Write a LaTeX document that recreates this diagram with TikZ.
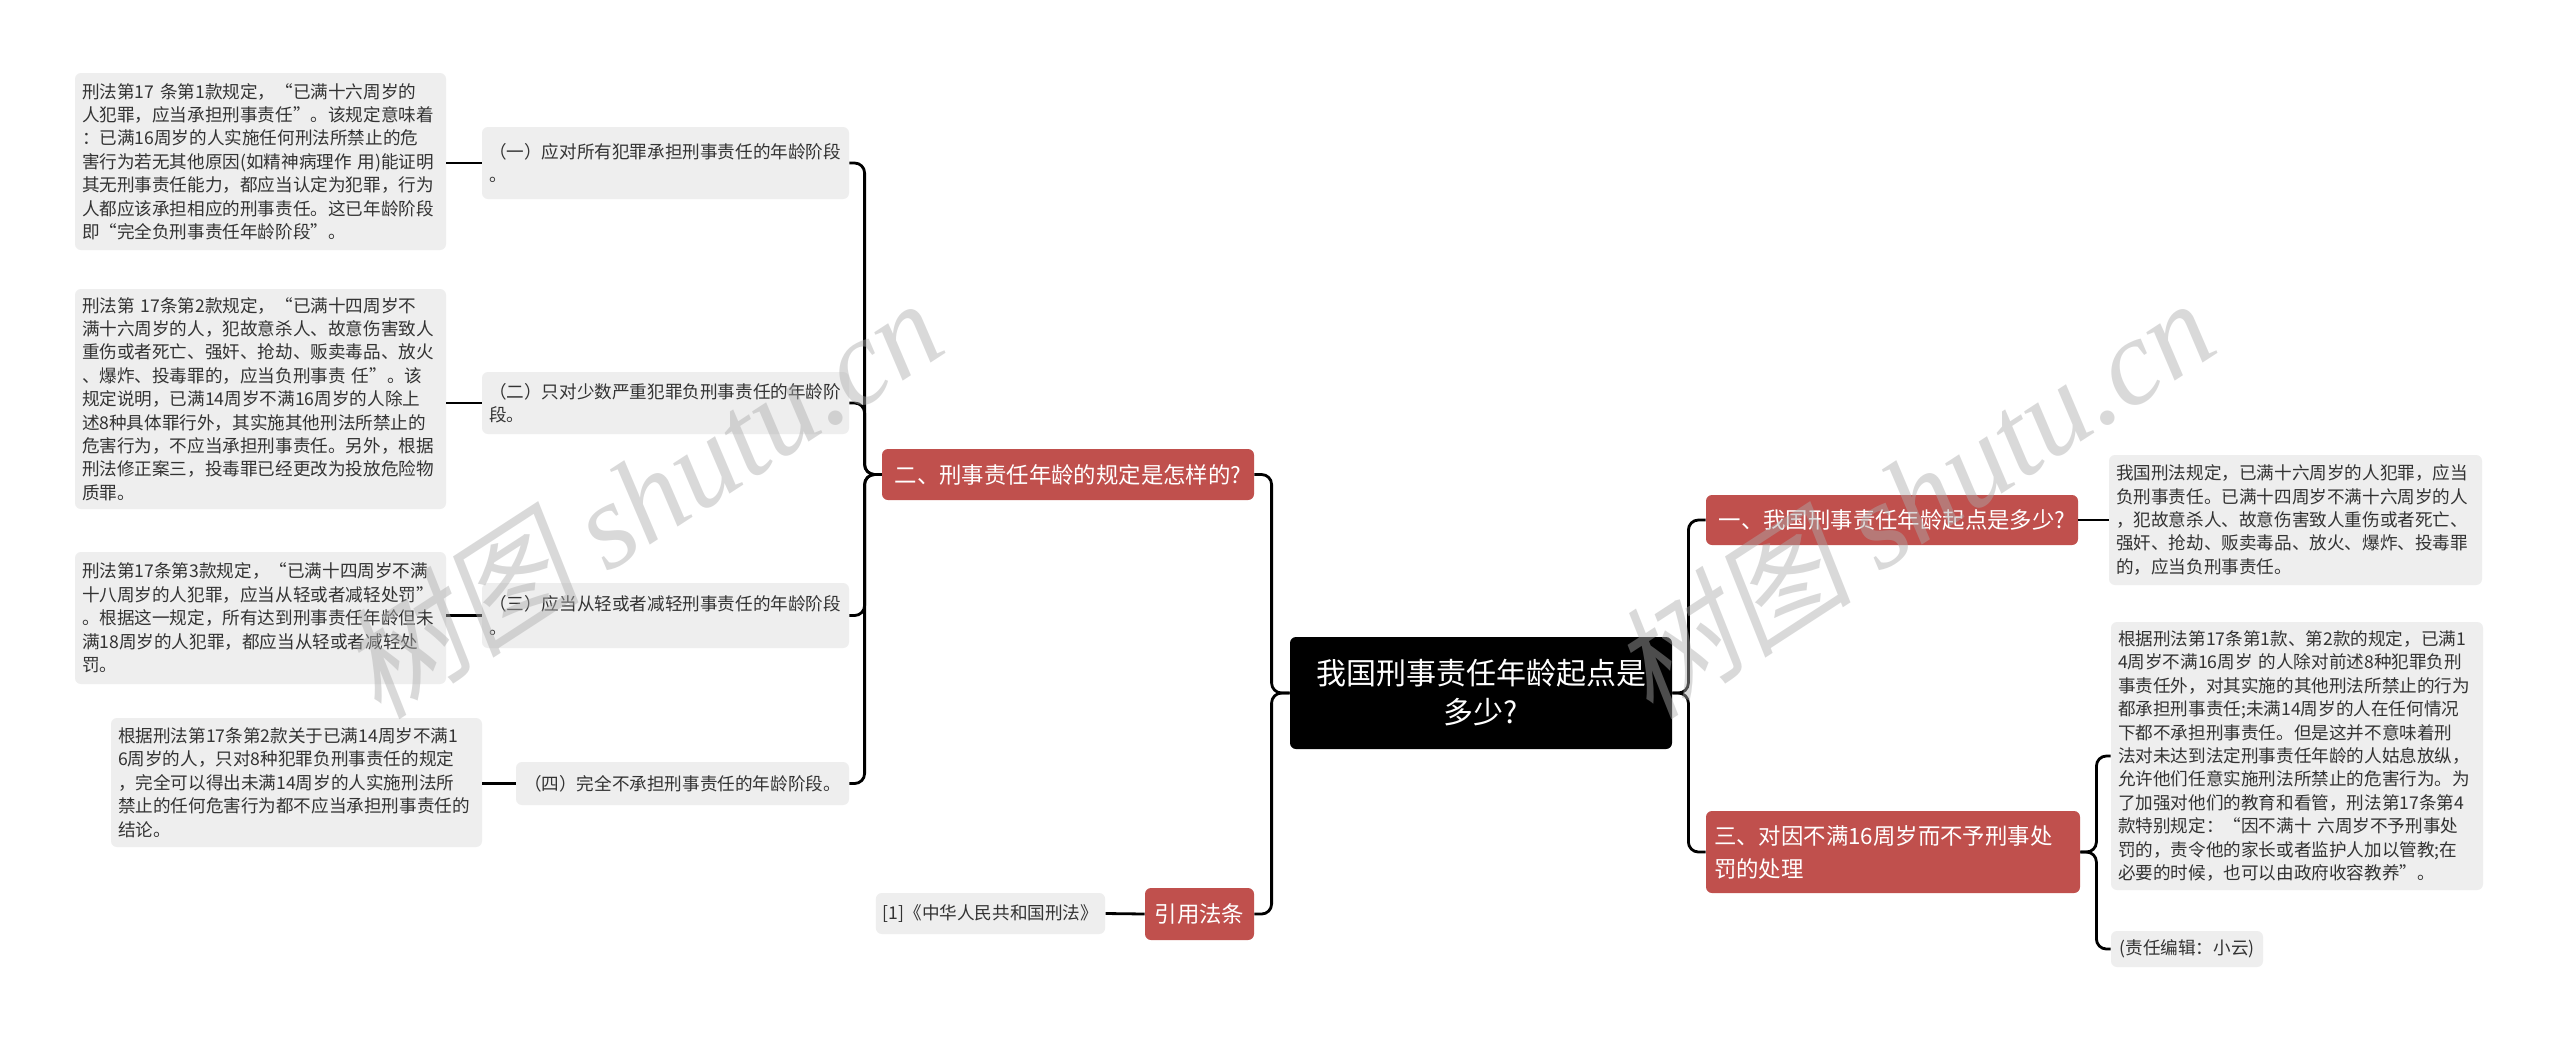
\documentclass[tikz,border=0pt]{standalone}
\usepackage{fontspec}
\newfontfamily\cjk{Noto Sans CJK SC}
\newfontfamily\wmcjk[FakeSlant=0.2]{Noto Sans CJK SC}
\newfontfamily\wmlat{Liberation Serif}
\definecolor{leafbg}{HTML}{EEEEEE}
\definecolor{leaftext}{HTML}{333333}
\definecolor{redbg}{HTML}{C0504D}
\begin{document}
\begin{tikzpicture}[x=0.5pt,y=-0.5pt,
  leaf/.style={fill=leafbg, rounded corners=3pt, text=leaftext, font=\cjk\fontsize{8.8}{11.7}\selectfont, align=left, inner xsep=3.5pt, inner ysep=3pt},
  redbox/.style={fill=redbg, rounded corners=3pt, text=white, font=\cjk\fontsize{11.2}{16.5}\selectfont, inner xsep=4pt},
  rootbox/.style={fill=black, rounded corners=3pt, text=white, font=\cjk\fontsize{15}{19.5}\selectfont, align=center},
  conn/.style={draw=black, line width=1.4pt, rounded corners=5pt},
  wm/.style={rotate=33, text=gray!65, opacity=0.45, font=\fontsize{61}{70}\selectfont}]
\fill[white] (0,0) rectangle (2560,1045);
\useasboundingbox (0,0) rectangle (2560,1045);

% root
\node[rootbox, minimum width=191pt, minimum height=56pt, text width=180pt] (root) at (1481,693) {我国刑事责任年龄起点是\\多少?};

% right side
\node[redbox, minimum width=186pt, minimum height=25pt, align=center] (r1) at (1892,520) {一、我国刑事责任年龄起点是多少?};
\node[leaf, minimum height=65pt, text width=179.5pt] (r1a) at (2295.5,520) {我国刑法规定，已满十六周岁的人犯罪，应当\\负刑事责任。已满十四周岁不满十六周岁的人\\，犯故意杀人、故意伤害致人重伤或者死亡、\\强奸、抢劫、贩卖毒品、放火、爆炸、投毒罪\\的，应当负刑事责任。};
\node[redbox, minimum height=41pt, text width=179pt, align=left] (r3) at (1893,852) {三、对因不满16周岁而不予刑事处\\罚的处理};
\node[leaf, minimum height=134pt, text width=179pt] (r3a) at (2297,756) {根据刑法第17条第1款、第2款的规定，已满1\\4周岁不满16周岁~的人除对前述8种犯罪负刑\\事责任外，对其实施的其他刑法所禁止的行为\\都承担刑事责任;未满14周岁的人在任何情况\\下都不承担刑事责任。但是这并不意味着刑\\法对未达到法定刑事责任年龄的人姑息放纵，\\允许他们任意实施刑法所禁止的危害行为。为\\了加强对他们的教育和看管，刑法第17条第4\\款特别规定：“因不满十~六周岁不予刑事处\\罚的，责令他的家长或者监护人加以管教;在\\必要的时候，也可以由政府收容教养”。};
\node[leaf, minimum height=18pt, minimum width=76pt] (r3b) at (2187,949) {(责任编辑：小云)};

% left side
\node[redbox, minimum width=186pt, minimum height=25.5pt, align=center] (l2) at (1068,474.5) {二、刑事责任年龄的规定是怎样的?};
\node[redbox, minimum width=54.5pt, minimum height=26pt, align=center] (cite) at (1199.5,914) {引用法条};
\node[leaf, minimum width=113.5pt, minimum height=20.5pt, align=center] (citea) at (990.5,913.5) {[1]《中华人民共和国刑法》};

\node[leaf, minimum height=36pt, text width=176.5pt] (s1) at (665.5,163) {（一）应对所有犯罪承担刑事责任的年龄阶段\\。};
\node[leaf, minimum height=31pt, text width=176.5pt] (s2) at (665.5,403) {（二）只对少数严重犯罪负刑事责任的年龄阶\\段。};
\node[leaf, minimum height=32.5pt, text width=176.5pt] (s3) at (665.5,615.5) {（三）应当从轻或者减轻刑事责任的年龄阶段\\。};
\node[leaf, minimum height=21.5pt, minimum width=166.5pt, align=center] (s4) at (682.5,783.5) {（四）完全不承担刑事责任的年龄阶段。};

\node[leaf, minimum height=88.5pt, text width=178.5pt] (t1) at (260.5,161.5) {刑法第17~条第1款规定，“已满十六周岁的\\人犯罪，应当承担刑事责任”。该规定意味着\\：已满16周岁的人实施任何刑法所禁止的危\\害行为若无其他原因(如精神病理作~用)能证明\\其无刑事责任能力，都应当认定为犯罪，行为\\人都应该承担相应的刑事责任。这已年龄阶段\\即“完全负刑事责任年龄阶段”。};
\node[leaf, minimum height=110pt, text width=178.5pt] (t2) at (260.5,399) {刑法第~17条第2款规定，“已满十四周岁不\\满十六周岁的人，犯故意杀人、故意伤害致人\\重伤或者死亡、强奸、抢劫、贩卖毒品、放火\\、爆炸、投毒罪的，应当负刑事责~任”。该\\规定说明，已满14周岁不满16周岁的人除上\\述8种具体罪行外，其实施其他刑法所禁止的\\危害行为，不应当承担刑事责任。另外，根据\\刑法修正案三，投毒罪已经更改为投放危险物\\质罪。};
\node[leaf, minimum height=66pt, text width=178.5pt] (t3) at (260.5,618) {刑法第17条第3款规定，“已满十四周岁不满\\十八周岁的人犯罪，应当从轻或者减轻处罚”\\。根据这一规定，所有达到刑事责任年龄但未\\满18周岁的人犯罪，都应当从轻或者减轻处\\罚。};
\node[leaf, minimum height=64.5pt, text width=178.5pt] (t4) at (296.5,782.5) {根据刑法第17条第2款关于已满14周岁不满1\\6周岁的人，只对8种犯罪负刑事责任的规定\\，完全可以得出未满14周岁的人实施刑法所\\禁止的任何危害行为都不应当承担刑事责任的\\结论。};

% connectors
\draw[conn] (root.east) -- ++(16,0) |- (r1.west);
\draw[conn] (root.east) -- ++(16,0) |- (r3.west);
\draw[conn] (r1.east) -- (r1a.west);
\draw[conn] (r3.east) -- ++(16,0) |- (r3a.west);
\draw[conn] (r3.east) -- ++(16,0) |- (r3b.west);
\draw[conn] (root.west) -- ++(-18,0) |- (l2.east);
\draw[conn] (root.west) -- ++(-18,0) |- (cite.east);
\draw[conn] (cite.west) -- (citea.east);
\draw[conn] (l2.west) -- ++(-17,0) |- (s1.east);
\draw[conn] (l2.west) -- ++(-17,0) |- (s2.east);
\draw[conn] (l2.west) -- ++(-17,0) |- (s3.east);
\draw[conn] (l2.west) -- ++(-17,0) |- (s4.east);
\draw[conn] (s1.west) -- (s1.west -| t1.east);
\draw[conn] (s2.west) -- (s2.west -| t2.east);
\draw[conn] (s3.west) -- (s3.west -| t3.east);
\draw[conn] (s4.west) -- (s4.west -| t4.east);

% watermarks
\node[wm] (wmL) at (640,497) {\wmcjk 树图\ \wmlat\itshape shutu.cn};
\node[wm] (wmR) at (1912,497) {\wmcjk 树图\ \wmlat\itshape shutu.cn};
\end{tikzpicture}
\end{document}
